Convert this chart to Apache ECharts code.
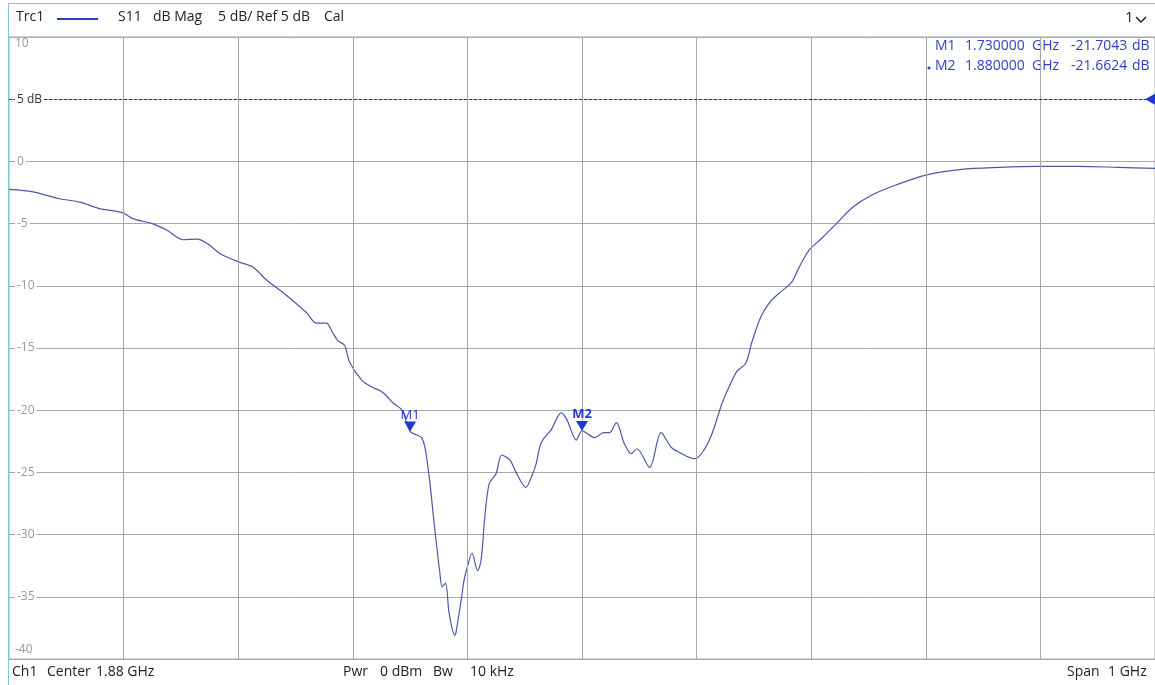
<!DOCTYPE html>
<html><head><meta charset="utf-8">
<script src="https://cdn.jsdelivr.net/npm/echarts@6/dist/echarts.min.js"></script>
<style>html,body{margin:0;padding:0;background:#fff}#c{width:1155px;height:685px}</style>
</head><body><div id="c"></div>
<script>
// Frequencies (GHz) and S11 magnitude (dB)
const freqs = [1.380,1.401,1.424,1.442,1.459,1.479,1.488,1.505,1.518,1.532,1.544,1.553,1.564,1.581,1.593,1.605,1.622,1.640,1.648,1.657,1.662,1.667,1.673,1.677,1.688,1.697,1.706,1.715,1.723,1.730,1.736,1.740,1.743,1.747,1.751,1.756,1.758,1.761,1.764,1.769,1.770,1.775,1.777,1.780,1.784,1.789,1.792,1.795,1.799,1.805,1.810,1.817,1.823,1.831,1.837,1.840,1.844,1.849,1.853,1.862,1.867,1.875,1.880,1.891,1.899,1.904,1.910,1.917,1.923,1.928,1.939,1.949,1.958,1.965,1.978,1.985,1.993,2.002,2.008,2.015,2.023,2.028,2.036,2.045,2.052,2.063,2.069,2.078,2.089,2.102,2.116,2.133,2.154,2.180,2.211,2.244,2.278,2.313,2.348,2.380];
const s11 = [-2.25,-2.45,-3.0,-3.27,-3.8,-4.12,-4.6,-5.0,-5.54,-6.3,-6.25,-6.6,-7.4,-8.1,-8.5,-9.56,-10.76,-12.2,-13.0,-13.0,-13.7,-14.4,-14.8,-16.1,-17.6,-18.15,-18.55,-19.4,-20.0,-21.7,-22.0,-22.2,-23.0,-25.6,-29.1,-33.1,-34.2,-33.9,-36.3,-38.1,-37.9,-35.0,-33.7,-32.6,-31.5,-32.9,-32.0,-28.8,-25.9,-25.1,-23.6,-24.0,-25.1,-26.2,-25.1,-24.3,-22.7,-22.0,-21.6,-20.2,-20.8,-22.4,-21.66,-22.2,-21.8,-21.8,-21.0,-22.7,-23.5,-23.1,-24.6,-21.8,-23.0,-23.4,-23.9,-23.4,-22.0,-19.5,-18.2,-16.9,-16.2,-14.6,-12.5,-11.2,-10.6,-9.7,-8.6,-7.15,-6.2,-5.0,-3.7,-2.7,-1.9,-1.1,-0.64,-0.48,-0.4,-0.4,-0.48,-0.56];
// Vertical grid divisions (GHz): center 1.88 GHz, span 1 GHz
const gridFreqs = [1.48,1.58,1.68,1.78,1.88,1.98,2.08,2.18,2.28];
const xMin = 1.38, xMax = 2.38;
const yMin = -40, yMax = 10, yStep = 5;
const refLevel = 5;
// Markers
const markerNames = ['M1','M2'];
const markerFreqs = [1.73, 1.88];
const markerVals = [-21.7043, -21.6624];
const markerFreqText = ['1.730000', '1.880000'];
const markerValText = ['-21.7043', '-21.6624'];

const FONT = '"Open Sans", "Noto Sans", sans-serif';
const BLUE = '#2236d8';
const TBLUE = '#2f3fc4';
const chart = echarts.init(document.getElementById('c'), null, {renderer:'canvas'});

const traceData = freqs.map((f,i)=>[f, s11[i]]);
const markerPts = markerNames.map((n,i)=>({
  name:n, coord:[markerFreqs[i], markerVals[i]],
  label:{show:true, formatter:n, position:'top', distance:0, color:BLUE, fontSize:13, fontFamily:FONT, fontWeight: i===1?'bold':'normal'}
}));

const txt = (left, top, text, fill, size) => ({type:'text', left, top, style:{text, fill, font:(size||14)+'px '+FONT}});
const tableRows = [];
markerNames.forEach((n,i)=>{
  const t = 39 + i*20;
  tableRows.push(txt(935, t, n, TBLUE), txt(965, t, markerFreqText[i], TBLUE), txt(1032, t, 'GHz', TBLUE),
                 txt(1071, t, markerValText[i], TBLUE), txt(1132, t, 'dB', TBLUE));
});

const option = {
  animation:false,
  grid:{left:9, right:0, top:37, bottom:26, show:true, borderColor:'#a8a8a8', borderWidth:1, backgroundColor:'#fff'},
  xAxis:{type:'value', min:xMin, max:xMax, axisLine:{show:false}, axisTick:{show:false}, axisLabel:{show:false}, splitLine:{show:false}},
  yAxis:[
    {type:'value', min:yMin, max:yMax, interval:yStep, axisLine:{show:false}, axisTick:{show:false}, axisLabel:{show:false},
     splitLine:{show:true, lineStyle:{color:'#a8a8a8', width:1}}, z:0},
    {type:'value', min:yMin, max:yMax, interval:yStep, position:'left', axisLine:{show:false}, axisTick:{show:false}, splitLine:{show:false},
     axisLabel:{inside:true, margin:6, color:'#9a9a9a', fontSize:12, fontFamily:FONT, backgroundColor:'#fff', padding:[0,2,0,2],
       showMinLabel:false, showMaxLabel:false,
       formatter:v=> v===refLevel ? '{r|5 dB}' : String(v),
       rich:{r:{color:'#333', fontSize:12, fontFamily:FONT, backgroundColor:'#fff'}}}, z:10}
  ],
  series:[
    {type:'line', data:[], z:1, silent:true,
     markLine:{silent:true, symbol:'none', label:{show:false}, animation:false,
       data:[
         ...gridFreqs.map(f=>({xAxis:f, lineStyle:{color:'#a8a8a8', width:1, type:'solid'}})),
         {yAxis:refLevel, lineStyle:{color:'#333', width:1, type:[3,2]}}
       ]},
     markPoint:{silent:true, animation:false, data:[{coord:[xMax, refLevel], symbol:'triangle', symbolSize:[11,10], symbolRotate:90, symbolOffset:[-5,0], itemStyle:{color:BLUE}, label:{show:false}}]}
    },
    {type:'line', name:'S11', data:traceData, yAxisIndex:0, z:3, showSymbol:false, smooth:0.3,
     lineStyle:{color:'#4b58a6', width:1.2},
     markPoint:{silent:true, animation:false, symbol:'triangle', symbolSize:[12,10], symbolRotate:180, symbolOffset:[0,-5], itemStyle:{color:BLUE}, data:markerPts}
    }
  ],
  graphic:[
    {type:'rect', shape:{x:8, y:3, width:1, height:682}, style:{fill:'#7fc8dc'}, silent:true},
    {type:'rect', shape:{x:8, y:3, width:1147, height:1}, style:{fill:'#7fc8dc'}, silent:true},
    txt(15, 38, '10', '#9a9a9a', 12),
    txt(15, 644, '-40', '#9a9a9a', 12),
    // header
    txt(16, 10, 'Trc1', '#222'),
    {type:'line', shape:{x1:57, y1:19, x2:98, y2:19}, style:{stroke:'#2a3cc0', lineWidth:2}},
    txt(118, 10, 'S11', '#222'),
    txt(153, 10, 'dB Mag', '#222'),
    txt(218, 10, '5 dB/ Ref 5 dB', '#222'),
    txt(324, 10, 'Cal', '#222'),
    txt(1125, 10, '1', '#222', 15),
    {type:'polyline', shape:{points:[[1136,17],[1141,22],[1146,17]]}, style:{stroke:'#222', lineWidth:1.5, fill:null}},
    // marker table
    ...tableRows,
    {type:'circle', shape:{cx:929, cy:68, r:1.5}, style:{fill:TBLUE}},
    // footer
    txt(12, 665, 'Ch1', '#222'),
    txt(47, 665, 'Center', '#222'),
    txt(96, 665, '1.88 GHz', '#222'),
    txt(343, 665, 'Pwr', '#222'),
    txt(380, 665, '0 dBm', '#222'),
    txt(433, 665, 'Bw', '#222'),
    txt(470, 665, '10 kHz', '#222'),
    txt(1067, 665, 'Span', '#222'),
    txt(1108, 665, '1 GHz', '#222')
  ]
};
chart.setOption(option);
</script>
</body></html>
